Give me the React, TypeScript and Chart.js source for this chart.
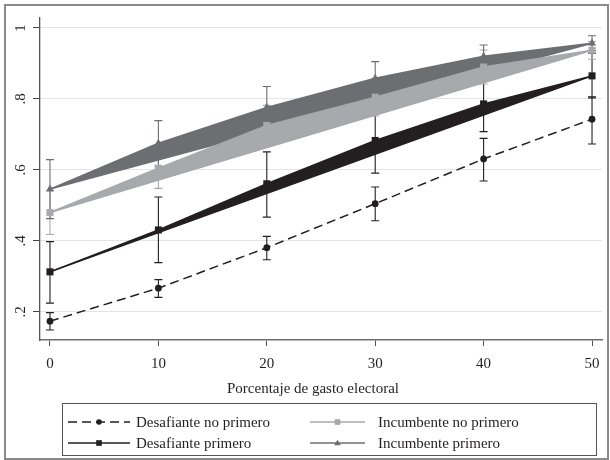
import React, { useEffect, useRef } from 'react';
import { Chart, registerables } from 'chart.js';
Chart.register(...registerables);

// ---------- data ----------
const gasto = [0, 10, 20, 30, 40, 50];
const xTicks = [0, 10, 20, 30, 40, 50];
const yTicks = [0.2, 0.4, 0.6, 0.8, 1];
const yTickLabels = ['.2', '.4', '.6', '.8', '1'];
const xTitle = 'Porcentaje de gasto electoral';
const seriesNames = ['Desafiante no primero', 'Desafiante primero', 'Incumbente no primero', 'Incumbente primero'];

const desNoPrim = [0.174, 0.267, 0.381, 0.505, 0.631, 0.743];
const desNoPrimLo = [0.149, 0.241, 0.347, 0.457, 0.569, 0.673];
const desNoPrimHi = [0.198, 0.291, 0.413, 0.552, 0.689, 0.806];

const desPrim = [0.313, 0.431, 0.561, 0.683, 0.786, 0.865];
const desPrimLo = [0.225, 0.339, 0.467, 0.591, 0.708, 0.803];
const desPrimHi = [0.398, 0.524, 0.651, 0.773, 0.862, 0.928];

const incNoPrim = [0.48, 0.605, 0.725, 0.805, 0.89, 0.937];
const incNoPrimLo = [0.418, 0.548, 0.668, 0.752, 0.842, 0.912];
const incNoPrimHi = [0.542, 0.662, 0.782, 0.858, 0.938, 0.962];

const incPrim = [0.546, 0.675, 0.776, 0.858, 0.92, 0.957];
const incPrimLo = [0.463, 0.611, 0.717, 0.811, 0.89, 0.936];
const incPrimHi = [0.629, 0.739, 0.835, 0.905, 0.952, 0.978];

// ---------- styles ----------
const FONT = '"Liberation Serif", "DejaVu Serif", serif';
const TEXT = '#231f20';
const SERIES = [
  { name: seriesNames[0], v: desNoPrim, lo: desNoPrimLo, hi: desNoPrimHi, color: '#231f20', dash: [9, 5], marker: 'circle', r: 3.4, band: false },
  { name: seriesNames[1], v: desPrim, lo: desPrimLo, hi: desPrimHi, color: '#231f20', dash: [], marker: 'rect', r: 5, band: true },
  { name: seriesNames[2], v: incNoPrim, lo: incNoPrimLo, hi: incNoPrimHi, color: '#a7a9ac', dash: [], marker: 'rect', r: 5, band: true },
  { name: seriesNames[3], v: incPrim, lo: incPrimLo, hi: incPrimHi, color: '#6d6e71', dash: [], marker: 'triangle', r: 4.6, band: true },
];

function buildDatasets() {
  const ds: any[] = [];
  SERIES.forEach((s) => {
    const pts = gasto.map((g, i) => ({ x: g, y: s.v[i] }));
    ds.push({
      label: s.name,
      data: pts,
      borderColor: s.color,
      backgroundColor: s.color,
      borderWidth: 1.5,
      borderDash: s.dash,
      pointStyle: s.marker,
      pointRadius: s.r,
      pointBorderWidth: 0,
      pointBackgroundColor: s.color,
      tension: 0,
      fill: s.band ? { target: '+1', above: s.color, below: s.color } : false,
    });
    if (s.band) {
      const n = gasto.length - 1;
      ds.push({
        label: s.name + ' (tendencia)',
        data: [{ x: gasto[0], y: s.v[0] }, { x: gasto[n], y: s.v[n] }],
        borderColor: s.color,
        borderWidth: 1.5,
        pointRadius: 0,
        fill: false,
      });
    }
  });
  return ds;
}

function drawMarker(ctx: CanvasRenderingContext2D, kind: string, x: number, y: number, r: number, color: string) {
  ctx.save();
  ctx.fillStyle = color;
  ctx.setLineDash([]);
  ctx.beginPath();
  if (kind === 'circle') {
    ctx.arc(x, y, r, 0, Math.PI * 2);
  } else if (kind === 'rect') {
    const s = Math.SQRT1_2 * r;
    ctx.rect(x - s, y - s, 2 * s, 2 * s);
  } else {
    const h = r * 1.5;
    ctx.moveTo(x, y - h * 0.6);
    ctx.lineTo(x + r * 0.9, y + h * 0.4);
    ctx.lineTo(x - r * 0.9, y + h * 0.4);
    ctx.closePath();
  }
  ctx.fill();
  ctx.restore();
}

const errorBarPlugin = {
  id: 'errorBars',
  beforeDatasetsDraw(chart: any) {
    const { ctx, scales } = chart;
    const xs = scales.x, ys = scales.y;
    ctx.save();
    ctx.lineWidth = 1.1;
    SERIES.forEach((s) => {
      ctx.strokeStyle = s.color;
      gasto.forEach((g, i) => {
        const px = xs.getPixelForValue(g);
        const y1 = ys.getPixelForValue(s.lo[i]);
        const y2 = ys.getPixelForValue(s.hi[i]);
        ctx.beginPath();
        ctx.moveTo(px, y1); ctx.lineTo(px, y2);
        ctx.moveTo(px - 4, y1); ctx.lineTo(px + 4, y1);
        ctx.moveTo(px - 4, y2); ctx.lineTo(px + 4, y2);
        ctx.stroke();
      });
    });
    ctx.restore();
  },
};

const decorPlugin = {
  id: 'decor',
  afterDraw(chart: any) {
    const { ctx, scales, chartArea } = chart;
    const ys = scales.y;
    ctx.save();
    // y tick labels, rotated
    ctx.fillStyle = TEXT;
    ctx.font = `15px ${FONT}`;
    ctx.textAlign = 'center';
    ctx.textBaseline = 'middle';
    yTicks.forEach((t, i) => {
      const py = ys.getPixelForValue(t);
      ctx.save();
      ctx.translate(chartArea.left - 18.5, py);
      ctx.rotate(-Math.PI / 2);
      ctx.fillText(yTickLabels[i], 0, 0);
      ctx.restore();
    });
    // x title
    ctx.fillText(xTitle, 313, 389);

    // legend
    ctx.strokeStyle = '#555';
    ctx.lineWidth = 1;
    ctx.strokeRect(62.5, 403.5, 534, 52);
    const cols = [{ x0: 68, x1: 130, tx: 136 }, { x0: 310, x1: 365, tx: 378 }];
    const rows = [422, 443];
    const layout = [[0, 0], [0, 1], [1, 0], [1, 1]];
    SERIES.forEach((s, i) => {
      const c = cols[layout[i][0]];
      const y = rows[layout[i][1]];
      ctx.save();
      ctx.strokeStyle = s.color;
      ctx.lineWidth = 1.5;
      ctx.setLineDash(s.dash);
      ctx.beginPath();
      ctx.moveTo(c.x0, y); ctx.lineTo(c.x1, y);
      ctx.stroke();
      ctx.restore();
      drawMarker(ctx, s.marker, (c.x0 + c.x1) / 2, y, s.marker === 'circle' ? 2.8 : s.r * 0.8, s.color);
      ctx.fillStyle = TEXT;
      ctx.textAlign = 'left';
      ctx.textBaseline = 'middle';
      ctx.fillText(s.name, c.tx, y + 1);
    });

    // outer frame
    ctx.strokeStyle = '#8a8a8a';
    ctx.lineWidth = 2;
    ctx.strokeRect(5, 5, 603, 454);
    ctx.restore();
  },
};

export default function App() {
  const ref = useRef<HTMLCanvasElement | null>(null);
  useEffect(() => {
    if (!ref.current) return;
    const chart = new Chart(ref.current, {
      type: 'line',
      data: { datasets: buildDatasets() },
      options: {
        animation: false,
        responsive: false,
        devicePixelRatio: 1,
        layout: { padding: { left: 5, top: 18, right: 8, bottom: 0 } },
        plugins: {
          legend: { display: false },
          tooltip: { enabled: false },
        },
        scales: {
          x: {
            type: 'linear',
            min: -0.92,
            max: 50.92,
            afterBuildTicks: (sc: any) => { sc.ticks = xTicks.map((v) => ({ value: v })); },
            afterFit: (sc: any) => { sc.height = 120; },
            ticks: {
              color: TEXT,
              font: { family: FONT, size: 15 },
              padding: 9,
              maxRotation: 0,
              callback: (v: any) => String(v),
            },
            grid: { drawOnChartArea: false, drawTicks: true, tickLength: 6, tickColor: '#555', lineWidth: 1 },
            border: { display: true, color: '#6e6e6e', width: 1.5 },
          },
          y: {
            type: 'linear',
            min: 0.121,
            max: 1.028,
            afterBuildTicks: (sc: any) => { sc.ticks = yTicks.map((v) => ({ value: v })); },
            afterFit: (sc: any) => { sc.width = 35; },
            ticks: { display: false },
            grid: { color: '#e4e4e4', lineWidth: 1, drawTicks: true, tickLength: 7, tickColor: '#444' },
            border: { display: true, color: '#555', width: 1.3 },
          },
        },
      },
      plugins: [errorBarPlugin, decorPlugin],
    });
    return () => chart.destroy();
  }, []);
  return (
    <div style={{ position: 'fixed', left: 0, top: 0, width: 610, height: 460, background: '#fff' }}>
      <canvas ref={ref} width={610} height={460} style={{ display: 'block' }} />
    </div>
  );
}
